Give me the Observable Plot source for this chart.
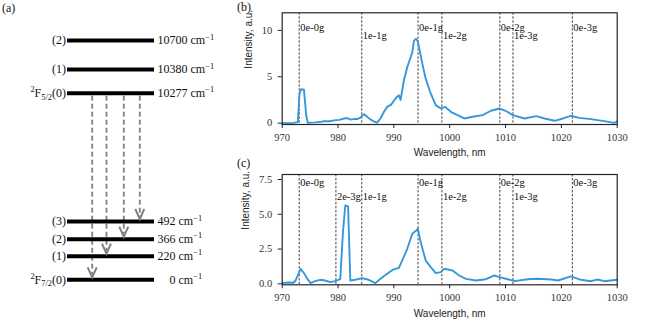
<!DOCTYPE html>
<html><head><meta charset="utf-8">
<script src="https://cdn.jsdelivr.net/npm/d3@7"></script>
<script src="https://cdn.jsdelivr.net/npm/@observablehq/plot@0.6"></script>
<style>
body{margin:0;background:#fff;}
#wrap{position:relative;width:646px;height:335px;overflow:hidden;font-family:"Liberation Serif","Times New Roman","DejaVu Serif",serif;background:#fff;}
#wrap svg{position:absolute;overflow:visible;}
.plabel{position:absolute;font-size:12px;font-family:"Liberation Serif","Times New Roman","DejaVu Serif",serif;line-height:1;color:#111;}
</style></head><body>
<div id="wrap">
  <div class="plabel" style="left:2px;top:2px">(a)</div>
  <div class="plabel" style="left:237px;top:1px">(b)</div>
  <div class="plabel" style="left:237px;top:157px">(c)</div>
</div>
<script>
const SERIF = '"Liberation Serif","Times New Roman","DejaVu Serif",serif';
const SANS = '"Liberation Sans",Arial,"DejaVu Sans",sans-serif';
// ---------- Panel (a): energy levels ----------
const levelEnergy = [10700, 10380, 10277, 492, 366, 220, 0];
const levelLeft = ["(2)", "(1)", "^{2}F_{5/2}(0)", "(3)", "(2)", "(1)", "^{2}F_{7/2}(0)"];
const levelRight = ["10700 cm^{−1}", "10380 cm^{−1}", "10277 cm^{−1}", "492 cm^{−1}", "366 cm^{−1}", "220 cm^{−1}", "\u2007\u20070 cm^{−1}"];
const arrowFrom = 10277;
const arrowTo = [0, 220, 366, 492];
const arrowPos = [0.284, 0.448, 0.647, 0.831];

// ---------- Panel (b) spectrum ----------
const wlB = [970, 971, 972, 972.8, 973.1, 973.4, 973.9, 974.3, 974.6, 975, 976, 977, 977.5, 978.5, 979.3, 980.2, 981.1, 981.6, 982.3, 983, 983.5, 984, 984.6, 985.2, 985.8, 986.5, 987, 987.6, 988.2, 988.8, 989.5, 990.3, 990.9, 991.2, 991.8, 992.4, 993, 993.3, 993.6, 994, 994.3, 994.5, 995.1, 995.7, 996.6, 997.5, 998.4, 999.2, 1000.2, 1001.4, 1002.6, 1004.1, 1005.9, 1007.4, 1008.9, 1010, 1011.3, 1013.4, 1015.5, 1017, 1018.8, 1020.3, 1021.7, 1023.2, 1025.3, 1027.7, 1029.5, 1030];
const intB = [0.02, 0.0, 0.02, 0.1, 3.2, 3.65, 3.6, 0.8, 0.02, 0.05, 0.08, 0.15, 0.2, 0.2, 0.3, 0.35, 0.5, 0.55, 0.37, 0.45, 0.45, 0.6, 0.97, 0.7, 0.4, 0.15, 0.05, 0.5, 1.2, 1.75, 2.0, 2.65, 3.0, 2.5, 4.6, 6.05, 7.1, 7.6, 8.9, 9.1, 8.8, 8.2, 6.4, 4.8, 3.2, 1.94, 1.58, 1.75, 1.22, 0.86, 0.5, 0.68, 0.86, 1.33, 1.58, 1.33, 0.86, 0.5, 0.75, 0.5, 0.25, 0.5, 0.79, 0.57, 0.43, 0.21, 0.03, 0.2];

// ---------- Panel (c) spectrum ----------
const wlC = [970, 971, 972, 972.4, 973.3, 973.9, 974.5, 975.1, 975.9, 976.8, 977.7, 978.6, 979.5, 980.4, 980.9, 981.3, 981.8, 982.2, 983.1, 984.3, 985.5, 986.7, 987.6, 988.8, 989.75, 990.9, 991.5, 992.4, 993.3, 993.9, 994.3, 994.8, 995.7, 996.6, 997.5, 998.4, 999, 1000.5, 1001.7, 1002.9, 1004.7, 1006.5, 1008, 1008.9, 1010.4, 1011.6, 1014, 1015.8, 1018.2, 1019.4, 1021.7, 1023.5, 1025.3, 1026.5, 1027.7, 1030];
const intC = [0.05, 0.1, 0.08, 0.24, 1.08, 0.77, 0.36, 0.05, 0.19, 0.29, 0.24, 0.12, 0.19, 0.33, 3.83, 5.63, 5.56, 0.24, 0.29, 0.41, 0.29, 0.05, 0.36, 0.72, 1.0, 1.15, 1.68, 2.52, 3.6, 3.79, 3.96, 3.0, 1.68, 1.2, 0.77, 0.84, 1.08, 0.96, 0.6, 0.36, 0.24, 0.33, 0.6, 0.48, 0.33, 0.19, 0.33, 0.36, 0.31, 0.24, 0.53, 0.29, 0.19, 0.31, 0.19, 0.29];

// ---------- transition markers ----------
const transLabel = ["0e-0g", "2e-3g", "1e-1g", "0e-1g", "1e-2g", "0e-2g", "1e-3g", "0e-3g"];
const transWl = [973.05, 979.62, 984.25, 994.33, 998.60, 1008.98, 1011.33, 1021.97];
const transRow = [0, 1, 1, 0, 1, 0, 1, 0];
const transInB = [true, false, true, true, true, true, true, true];

const xTicks = [970, 980, 990, 1000, 1010, 1020, 1030];
const yTicksB = [0, 5, 10];
const yTicksC = [0, 2.5, 5, 7.5];

const BLUE = "#3498db";
const wrap = document.getElementById("wrap");

function richify(svg) {
  svg.querySelectorAll("text").forEach(t => {
    const s = t.textContent;
    if (!/[\^_]\{/.test(s)) return;
    const fs = parseFloat(getComputedStyle(t).fontSize) || 12;
    while (t.firstChild) t.removeChild(t.firstChild);
    const re = /([\^_])\{([^}]*)\}|([^\^_]+)/g;
    let m, shift = 0;
    while ((m = re.exec(s))) {
      const ts = document.createElementNS("http://www.w3.org/2000/svg", "tspan");
      let target = 0;
      if (m[1]) {
        target = m[1] === "^" ? -0.4 * fs : 0.22 * fs;
        ts.setAttribute("font-size", (0.7 * fs).toFixed(2));
        ts.textContent = m[2];
      } else ts.textContent = m[3];
      if (target !== shift) { ts.setAttribute("dy", (target - shift).toFixed(2)); shift = target; }
      t.appendChild(ts);
    }
  });
}

// Panel (a)
const levels = levelEnergy.map((e, i) => ({e, left: levelLeft[i], right: levelRight[i]}));
const arrows = arrowTo.map((to, i) => ({to, from: arrowFrom, x: arrowPos[i]}));
const chevron = {draw(ctx) { ctx.moveTo(-4.5, -10); ctx.lineTo(0, 0); ctx.lineTo(4.5, -10); }};
const pa = Plot.plot({
  width: 230, height: 335, marginTop: 0, marginBottom: 0, marginLeft: 67, marginRight: 76,
  x: {domain: [0, 1], axis: null},
  y: {type: "linear", domain: [0, 220, 366, 492, 10277, 10380, 10700],
      range: [279.3, 255.7, 238.7, 221, 92.7, 69, 40], axis: null},
  style: {fontFamily: SERIF, fontSize: "12px", color: "#111", background: "transparent"},
  marks: [
    Plot.ruleX(arrows, {x: "x", y1: "from", y2: "to", stroke: "#808080", strokeWidth: 1.8, strokeDasharray: "5,3", insetTop: 3, insetBottom: 5}),
    Plot.ruleY(levels, {y: "e", x1: 0, x2: 1, stroke: "#000", strokeWidth: 4}),
    Plot.dot(arrows, {x: "x", y: "to", symbol: chevron, stroke: "#808080", strokeWidth: 2, fill: "none", dy: -2.5}),
    Plot.text(levels, {x: 0, y: "e", text: "left", textAnchor: "end", dx: -1.5, fill: "#111", fontFamily: SERIF}),
    Plot.text(levels, {x: 1, y: "e", text: "right", textAnchor: "start", dx: 3, fill: "#111", fontFamily: SERIF})
  ]
});
pa.style.left = "0px"; pa.style.top = "0px";
wrap.appendChild(pa);
richify(pa);

function spectrum(wl, vals, opts) {
  const spec = wl.map((w, i) => ({wl: w, v: vals[i]}));
  const trans = transWl.map((w, i) => ({wl: w, label: transLabel[i], row: transRow[i], inB: transInB[i]}))
    .filter(d => opts.all || d.inB);
  const svg = Plot.plot({
    width: 416, height: opts.height,
    marginLeft: 51.7, marginRight: 29.3, marginTop: opts.mt, marginBottom: opts.mb,
    x: {domain: [970, 1030]},
    y: {domain: opts.yDomain},
    style: {fontFamily: SERIF, fontSize: "10.5px", color: "#222", background: "transparent"},
    marks: [
      Plot.ruleX(trans, {x: "wl", stroke: "#111", strokeWidth: 0.8, strokeDasharray: "2.4,1.6"}),
      Plot.line(spec, {x: "wl", y: "v", stroke: BLUE, strokeWidth: 1.9, strokeLinejoin: "round"}),
      Plot.text(trans, {x: "wl", y: d => opts.rowY[d.row], text: "label", textAnchor: "start", dx: 1, fill: "#111", fontSize: 10.5, fontFamily: SERIF}),
      Plot.frame({stroke: "#262626", strokeWidth: 1.2}),
      Plot.axisX({ticks: xTicks, tickFormat: d => String(d), tickSize: 4, tickPadding: 5, label: null, fill: "#333", fontFamily: SERIF}),
      Plot.axisY({ticks: opts.yTicks, tickFormat: opts.yFmt, tickSize: 4, tickPadding: 6, label: null, fill: "#333", fontFamily: SERIF}),
      Plot.text(["Wavelength, nm"], {frameAnchor: "bottom", dy: opts.xlDy, text: d => d, fontFamily: SANS, fontSize: 10, fill: "#222"}),
      Plot.text(["Intensity, a.u."], {frameAnchor: "left", dx: opts.ylDx, rotate: -90, text: d => d, fontFamily: SANS, fontSize: 10, fill: "#222"})
    ]
  });
  svg.style.left = "230px"; svg.style.top = opts.top + "px";
  wrap.appendChild(svg);
}

spectrum(wlB, intB, {height: 165, top: 0, mt: 12.3, mb: 41, yDomain: [-0.15, 11.9], yTicks: yTicksB,
  yFmt: d => String(d), rowY: [10.35, 9.4], all: false, xlDy: 31, ylDx: -33.7});
spectrum(wlC, intC, {height: 170, top: 165, mt: 9, mb: 50.7, yDomain: [-0.07, 7.86], yTicks: yTicksC,
  yFmt: d3.format(".1f"), rowY: [7.3, 6.25], all: true, xlDy: 32.4, ylDx: -36.7});
</script>
</body></html>
